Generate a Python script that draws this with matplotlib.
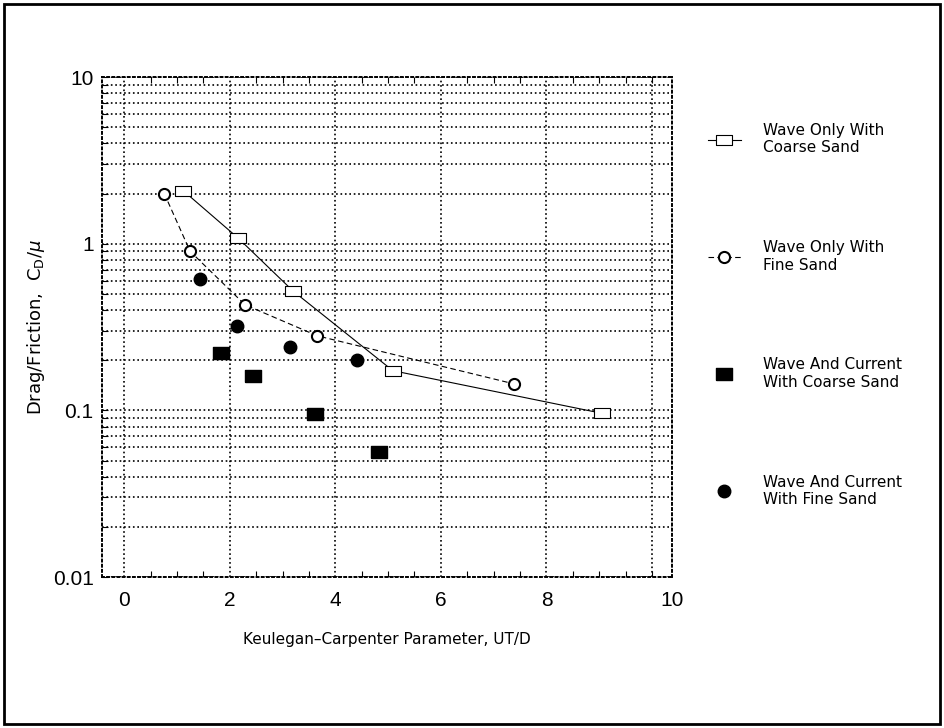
import numpy as np
import matplotlib.pyplot as plt
from matplotlib.patches import Rectangle

# values
kc_wave_coarse = [1.12, 2.16, 3.20, 5.09, 9.05]
cd_wave_coarse = [2.08, 1.08, 0.52, 0.173, 0.096]

kc_wave_fine = [0.76, 1.25, 2.29, 3.66, 7.39]
cd_wave_fine = [2.0, 0.90, 0.43, 0.28, 0.144]

kc_wc_coarse = [1.83, 2.45, 3.62, 4.83]
cd_wc_coarse = [0.22, 0.16, 0.095, 0.056]

kc_wc_fine = [1.44, 2.14, 3.14, 4.41]
cd_wc_fine = [0.61, 0.32, 0.24, 0.20]

labels = ['Wave Only With\nCoarse Sand', 'Wave Only With\nFine Sand',
          'Wave And Current\nWith Coarse Sand', 'Wave And Current\nWith Fine Sand']

plt.rcParams['font.family'] = ['DejaVu Sans']

rect = [(-1.4, -1), (1.4, -1), (1.4, 1), (-1.4, 1), (-1.4, -1)]

fig = plt.figure(figsize=(9.44, 7.28), dpi=100)
ax = fig.add_axes([0.108, 0.2074, 0.604, 0.6868])

l1, = ax.plot(kc_wave_coarse, cd_wave_coarse, '-', color='black', lw=0.8,
              marker=rect, ms=11, mfc='white', mec='black', mew=0.8,
              label=labels[0])
l2, = ax.plot(kc_wave_fine, cd_wave_fine, '--', color='black', lw=0.8,
              dashes=(5, 3), marker='o', ms=8, mfc='white', mec='black', mew=1.5,
              label=labels[1])
l3, = ax.plot(kc_wc_coarse, cd_wc_coarse, ls='none', marker=rect, ms=12,
              color='black', label=labels[2])
l4, = ax.plot(kc_wc_fine, cd_wc_fine, ls='none', marker='o', ms=9,
              color='black', label=labels[3])

ax.set_yscale('log')
ax.set_ylim(0.01, 10)
ax.set_xlim(-0.42, 10.38)

ax.set_xticks([0, 2, 4, 6, 8, 10.38])
ax.set_xticklabels(['0', '2', '4', '6', '8', '10'])
ax.set_xticks(np.arange(0.5, 10.3, 0.5), minor=True)
ax.set_yticks([0.01, 0.1, 1, 10])
ax.set_yticklabels(['0.01', '0.1', '1', '10'])
ax.tick_params(axis='both', which='both', direction='in', top=True, right=False,
               length=4, width=0.8)
ax.tick_params(axis='x', which='major', length=0, pad=10)
ax.tick_params(axis='y', which='major', pad=6)
for t in ax.get_xticklabels():
    t.set_fontfamily('Liberation Sans')
    t.set_fontsize(15)
for t in ax.get_yticklabels():
    t.set_fontfamily('Liberation Sans')
    t.set_fontsize(15)

for xv in [0, 2, 4, 6, 8, 10]:
    ax.axvline(xv, color='black', ls=':', lw=1.2, zorder=0)
ax.yaxis.grid(True, which='both', color='black', ls=':', lw=1.2)
for s in ax.spines.values():
    s.set_linestyle(':')
    s.set_linewidth(1.4)

ax.set_xlabel('Keulegan\u2013Carpenter Parameter, UT/D', fontsize=11, labelpad=16)
ax.set_ylabel(r'Drag/Friction,  C$_\mathrm{D}$/$\mu$', fontsize=13, labelpad=4)

ax.legend(handles=[l1, l2, l3, l4], loc='upper left',
          bbox_to_anchor=(0.735, 0.85), bbox_transform=fig.transFigure,
          frameon=False, fontsize=11, labelspacing=5.55, handlelength=2.2,
          handletextpad=1.4)

fig.patches.append(Rectangle((0.004, 0.006), 0.992, 0.988, transform=fig.transFigure,
                             fill=False, edgecolor='black', lw=2))

plt.savefig('out.png', dpi=100)
